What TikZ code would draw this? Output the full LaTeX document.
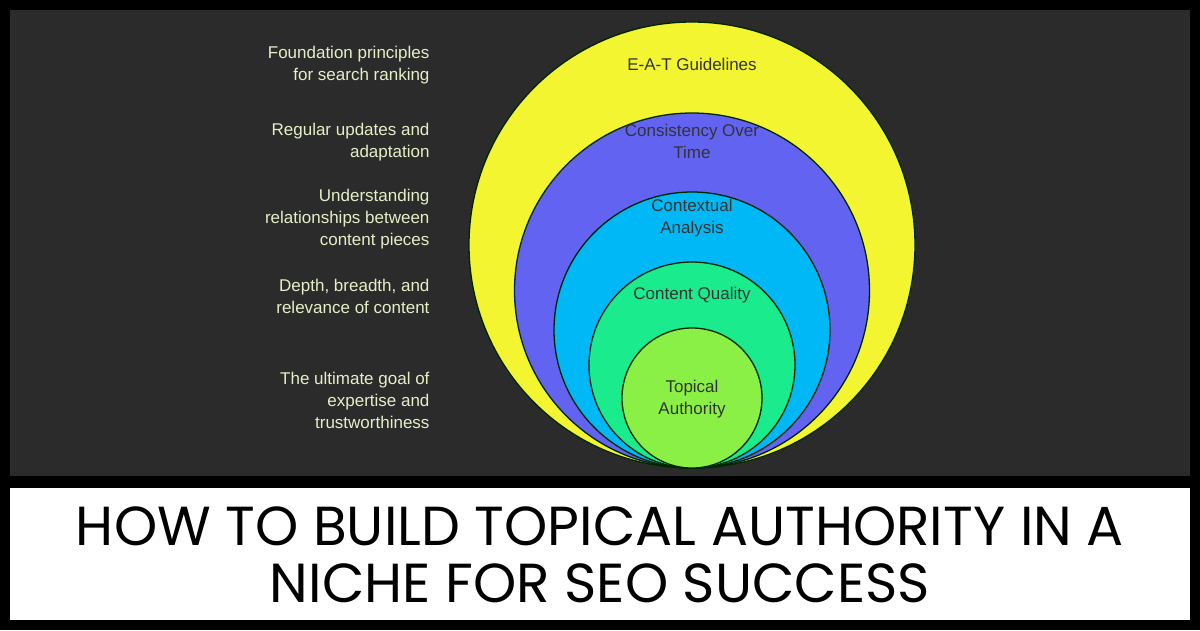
\documentclass[tikz,border=0pt]{standalone}
\usepackage{fontspec}
\setmainfont{Liberation Sans}
\newfontfamily\titlefont{Poppins}
\begin{document}
\begin{tikzpicture}[x=1pt,y=-1pt,
  circ/.style={draw=black!85!green,line width=1.3pt},
  lbl/.style={text=lab,font=\fontsize{17}{22}\selectfont,align=right,anchor=east},
  clbl/.style={text=black!80,font=\fontsize{17}{22}\selectfont,align=center}]
\definecolor{lab}{HTML}{E4EFC6}
\definecolor{panel}{HTML}{2B2B2B}
\fill[black] (0,0) rectangle (1200,630);
\useasboundingbox (0,0) rectangle (1200,630);
\fill[panel] (10,10) rectangle (1190,476);
\fill[white] (10,488) rectangle (1190,620);
\begin{scope}
\clip (10,10) rectangle (1190,476);
\draw[circ,fill={rgb,255:red,242;green,245;blue,48}] (692,245) circle[radius=223];
\draw[circ,fill={rgb,255:red,99;green,99;blue,242}] (692,290.5) circle[radius=177.5];
\draw[circ,fill={rgb,255:red,0;green,184;blue,245}] (692,330) circle[radius=138];
\draw[circ,fill={rgb,255:red,26;green,235;blue,140}] (692,365) circle[radius=103];
\draw[circ,fill={rgb,255:red,138;green,240;blue,70}] (692,398) circle[radius=70];
\end{scope}
\node[clbl] (c1) at (692,64) {E-A-T Guidelines};
\node[clbl] (c2) at (692,141) {Consistency Over\\Time};
\node[clbl] (c3) at (692,218) {Contextual\\Analysis};
\node[clbl] (c4) at (692,295) {Content Quality};
\node[clbl] (c5) at (692,399) {Topical\\Authority};
\node[lbl] (l1) at (433,65) {Foundation principles\\for search ranking};
\node[lbl] (l2) at (433,142) {Regular updates and\\adaptation};
\node[lbl] (l3) at (433,219) {Understanding\\relationships between\\content pieces};
\node[lbl] (l4) at (433,296) {Depth, breadth, and\\relevance of content};
\node[lbl] (l5) at (433,400) {The ultimate goal of\\expertise and\\trustworthiness};
\node[font=\titlefont\fontsize{55}{57}\selectfont,align=center] (t) at (600,555) {HOW TO BUILD TOPICAL AUTHORITY IN A\\NICHE FOR SEO SUCCESS};
\end{tikzpicture}
\end{document}
